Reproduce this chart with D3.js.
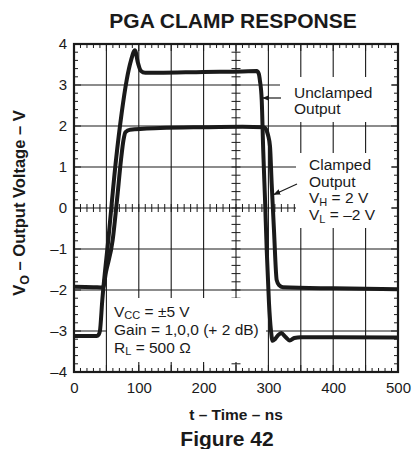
<!DOCTYPE html>
<html>
<head>
<meta charset="utf-8">
<script src="https://cdn.jsdelivr.net/npm/d3@7"></script>
<style>
  html, body { margin: 0; padding: 0; background: #fff; }
  svg { display: block; }
  text { font-family: "Liberation Sans", Arial, Helvetica, sans-serif; fill: #1a1a1a; }
</style>
</head>
<body>
<svg id="chart" width="412" height="449"></svg>
<script>
// ---- data (time in ns, voltage in V) ----
const xTicks = [0, 100, 200, 300, 400, 500];
const yTicks = [-4, -3, -2, -1, 0, 1, 2, 3, 4];
const xGrid = [50, 100, 150, 200, 250, 300, 350, 400, 450];
const yGrid = [-3, -2, -1, 0, 1, 2, 3];

const unclamped = [
  [0, -3.12], [20, -3.12], [35, -3.12], [38, -3.09], [40, -3.0], [43.7, -2.24],
  [52.9, -0.78], [64.8, 1.17], [73.6, 2.32], [81.3, 3.12], [88, 3.6], [94, 3.85],
  [98.5, 3.55], [103, 3.35], [110, 3.3], [130, 3.3], [200, 3.32], [260, 3.33],
  [282, 3.34], [285, 3.28], [287, 3.1], [289.7, 2.63], [292, 1.41], [294.8, 0.2],
  [297.4, -1.02], [300.9, -2.32], [304, -3.0], [306.5, -3.24], [310, -3.2],
  [315, -3.1], [320, -3.05], [326, -3.14], [333, -3.23], [340, -3.17],
  [350, -3.15], [400, -3.15], [500, -3.16]
];

const clamped = [
  [0, -1.92], [30, -1.93], [44.8, -1.94], [49.4, -1.56], [59.7, -0.78],
  [66.4, 0.2], [72.5, 1.17], [76.4, 1.66], [79.5, 1.85], [86.4, 1.91],
  [133, 1.95], [200, 1.97], [260, 1.98], [293, 1.97], [296, 1.93], [299.4, 1.78],
  [302.5, 1.5], [305, 0.61], [308.6, -0.54], [312.8, -1.76], [316.4, -1.88],
  [322.5, -1.93], [400, -1.96], [500, -1.98]
];

// ---- layout ----
const svg = d3.select("#chart");
const x = d3.scaleLinear().domain([0, 500]).range([74, 398]);
const y = d3.scaleLinear().domain([-4, 4]).range([372, 44]);
const ink = "#1a1a1a";

// grid
const g = svg.append("g");
g.selectAll("line.vg").data(xGrid).join("line")
  .attr("x1", d => x(d)).attr("x2", d => x(d))
  .attr("y1", y(4)).attr("y2", y(-4))
  .attr("stroke", ink).attr("stroke-width", 1.1);
g.selectAll("line.hg").data(yGrid).join("line")
  .attr("x1", x(0)).attr("x2", x(500))
  .attr("y1", d => y(d)).attr("y2", d => y(d))
  .attr("stroke", ink).attr("stroke-width", 1.1);

// center line crossing ticks
const tMinor = d3.range(10, 500, 10);
const vMinor = d3.range(-3.8, 4, 0.2);
g.selectAll("line.ct").data(tMinor).join("line")
  .attr("x1", d => x(d)).attr("x2", d => x(d))
  .attr("y1", y(0) - 4).attr("y2", y(0) + 4)
  .attr("stroke", ink).attr("stroke-width", 1);
g.selectAll("line.cv").data(vMinor).join("line")
  .attr("x1", x(250) - 4.5).attr("x2", x(250) + 4.5)
  .attr("y1", d => y(d)).attr("y2", d => y(d))
  .attr("stroke", ink).attr("stroke-width", 1);

// white label boxes that hide the grid
const boxes = [
  [107, 298, 266, 362],
  [280, 77, 392, 122],
  [296, 153, 392, 228]
];
svg.append("g").selectAll("rect").data(boxes).join("rect")
  .attr("x", d => d[0]).attr("y", d => d[1])
  .attr("width", d => d[2] - d[0]).attr("height", d => d[3] - d[1])
  .attr("fill", "#fff");

// frame ticks
const fr = svg.append("g").attr("stroke", ink).attr("stroke-width", 1);
const tAll = d3.range(10, 500, 10);
const vAll = d3.range(-3.8, 4, 0.2);
const tl = t => (Math.round(t) % 50 === 0 ? 7 : 4);
const vl = v => (Math.abs(v - Math.round(v)) < 1e-6 ? 7 : 4);
fr.selectAll("line.b").data(tAll).join("line")
  .attr("x1", d => x(d)).attr("x2", d => x(d)).attr("y1", y(-4)).attr("y2", d => y(-4) - tl(d));
fr.selectAll("line.t").data(tAll).join("line")
  .attr("x1", d => x(d)).attr("x2", d => x(d)).attr("y1", y(4)).attr("y2", d => y(4) + tl(d));
fr.selectAll("line.l").data(vAll).join("line")
  .attr("x1", x(0)).attr("x2", d => x(0) + vl(d)).attr("y1", d => y(d)).attr("y2", d => y(d));
fr.selectAll("line.r").data(vAll).join("line")
  .attr("x1", x(500)).attr("x2", d => x(500) - vl(d)).attr("y1", d => y(d)).attr("y2", d => y(d));

// frame
svg.append("rect")
  .attr("x", x(0)).attr("y", y(4))
  .attr("width", x(500) - x(0)).attr("height", y(-4) - y(4))
  .attr("fill", "none").attr("stroke", ink).attr("stroke-width", 2.2);

// curves
const line = d3.line().x(d => x(d[0])).y(d => y(d[1])).curve(d3.curveMonotoneX);
svg.append("path").datum(clamped).attr("d", line)
  .attr("fill", "none").attr("stroke", ink).attr("stroke-width", 4).attr("stroke-linejoin", "round");
svg.append("path").datum(unclamped).attr("d", line)
  .attr("fill", "none").attr("stroke", ink).attr("stroke-width", 4).attr("stroke-linejoin", "round");

// axes labels
const fmt = d => (d < 0 ? "\u2013" + Math.abs(d) : String(d));
const xAxis = svg.append("g").attr("transform", `translate(0,${y(-4)})`)
  .call(d3.axisBottom(x).tickValues(xTicks).tickSize(0).tickPadding(10).tickFormat(fmt));
const yAxis = svg.append("g").attr("transform", `translate(${x(0)},0)`)
  .call(d3.axisLeft(y).tickValues(yTicks).tickSize(0).tickPadding(7).tickFormat(fmt));
[xAxis, yAxis].forEach(a => {
  a.select(".domain").remove();
  a.selectAll("text").attr("font-size", 15).attr("fill", ink)
    .attr("font-family", '"Liberation Sans", Arial, sans-serif');
});

// titles
svg.append("text").attr("x", 233).attr("y", 28).attr("text-anchor", "middle")
  .attr("font-size", 21).attr("font-weight", "bold").text("PGA CLAMP RESPONSE");
svg.append("text").attr("x", 236).attr("y", 420).attr("text-anchor", "middle")
  .attr("font-size", 15.5).attr("font-weight", "bold").text("t \u2013 Time \u2013 ns");
svg.append("text").attr("x", 227).attr("y", 446).attr("text-anchor", "middle")
  .attr("font-size", 21).attr("font-weight", "bold").text("Figure 42");

const yt = svg.append("text").attr("transform", "translate(25,203) rotate(-90)")
  .attr("text-anchor", "middle").attr("font-size", 16.5).attr("font-weight", "bold");
yt.append("tspan").text("V");
yt.append("tspan").attr("font-size", 12.5).attr("dy", 4).text("O");
yt.append("tspan").attr("dy", -4).text(" \u2013 Output Voltage \u2013 V");

// annotation helper
function textLine(px, py, parts, size) {
  const t = svg.append("text").attr("x", px).attr("y", py).attr("font-size", size || 15.5);
  let shift = 0;
  parts.forEach(p => {
    const s = t.append("tspan").text(p[0]);
    if (p[1] === "sub") { s.attr("font-size", 11).attr("dy", 2.5); shift = 2.5; }
    else if (shift) { s.attr("dy", -shift); shift = 0; }
  });
}

textLine(294, 97.5, [["Unclamped"]]);
textLine(294, 114, [["Output"]]);
textLine(309, 170, [["Clamped"]]);
textLine(309, 187, [["Output"]]);
textLine(309, 203, [["V"], ["H", "sub"], [" = 2 V"]]);
textLine(309, 220, [["V"], ["L", "sub"], [" = \u20132 V"]]);
textLine(114, 316.5, [["V"], ["CC", "sub"], [" = \u00b15 V"]]);
textLine(114, 335, [["Gain = 1,0,0 (+ 2 dB)"]]);
textLine(114, 352.5, [["R"], ["L", "sub"], [" = 500 \u03a9"]]);

// arrows
const defs = svg.append("defs");
defs.append("marker").attr("id", "ah").attr("viewBox", "0 0 10 10")
  .attr("refX", 9).attr("refY", 5).attr("markerWidth", 7).attr("markerHeight", 7)
  .attr("markerUnits", "userSpaceOnUse").attr("orient", "auto")
  .append("path").attr("d", "M0,1 L10,5 L0,9 Z").attr("fill", ink);
svg.append("line").attr("x1", 281).attr("y1", 98).attr("x2", 263).attr("y2", 98)
  .attr("stroke", ink).attr("stroke-width", 1.2).attr("marker-end", "url(#ah)");
svg.append("line").attr("x1", 297).attr("y1", 184).attr("x2", 274).attr("y2", 194.5)
  .attr("stroke", ink).attr("stroke-width", 1.2).attr("marker-end", "url(#ah)");
</script>
</body>
</html>
